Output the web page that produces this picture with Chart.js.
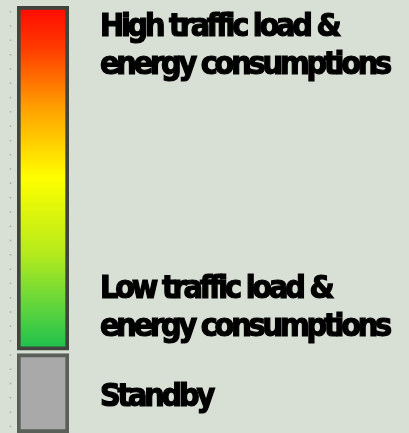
<!DOCTYPE html>
<html>
<head>
<meta charset="utf-8">
<script src="https://cdn.jsdelivr.net/npm/chart.js@4.4.0/dist/chart.umd.min.js"></script>
<style>
    html, body { margin: 0; padding: 0; background: #d8dfd5; }
    #wrap { width: 409px; height: 433px; }
</style>
</head>
<body>
<div id="wrap"><canvas id="legendChart" width="409" height="433"></canvas></div>
<script>
    // Legend bar: one category, two stacked ranges
    const categories = ['Load'];
    const trafficRange = [19.4, 100];   // coloured gradient part
    const standbyRange = [0, 18.6];     // grey standby part

    // where the labels sit on the scale, and their text
    const tickValues = [90.5, 29.2, 8.3];
    const tickLabels = [
        ['High traffic load &', 'energy consumptions'],
        ['Low traffic load &', 'energy consumptions'],
        ['Standby']
    ];

    const fontFamily = "'DejaVu Sans Condensed', 'Liberation Sans', sans-serif";

    function trafficGradient(context) {
        const chart = context.chart;
        const yScale = chart.scales.y;
        if (!chart.chartArea || !yScale) return '#ff0000';
        const top = yScale.getPixelForValue(trafficRange[1]);
        const bottom = yScale.getPixelForValue(trafficRange[0]);
        const g = chart.ctx.createLinearGradient(0, top, 0, bottom);
        g.addColorStop(0, '#ff0800');
        g.addColorStop(0.12, '#ff3a00');
        g.addColorStop(0.3, '#ffa200');
        g.addColorStop(0.5, '#ffff00');
        g.addColorStop(0.72, '#b4ea1c');
        g.addColorStop(0.88, '#5cd43e');
        g.addColorStop(1, '#1cc04e');
        return g;
    }

    // faint dotted guide on the left + tight letter spacing for the labels
    const decorPlugin = {
        id: 'decor',
        beforeDraw(chart) {
            const ctx = chart.ctx;
            ctx.save();
            ctx.strokeStyle = '#a9b0a6';
            ctx.lineWidth = 1.5;
            ctx.setLineDash([1.5, 12.8]);
            ctx.beginPath();
            ctx.moveTo(10.5, 11);
            ctx.lineTo(10.5, chart.height);
            ctx.stroke();
            ctx.restore();
            ctx.letterSpacing = '-3.2px';
        }
    };

    const ctx = document.getElementById('legendChart').getContext('2d');
    new Chart(ctx, {
        type: 'bar',
        data: {
            labels: categories,
            datasets: [
                {
                    label: 'Traffic load',
                    data: [trafficRange],
                    backgroundColor: trafficGradient,
                    borderColor: '#3f453c',
                    borderWidth: 4,
                    borderSkipped: false,
                    barPercentage: 1,
                    categoryPercentage: 1,
                    grouped: false
                },
                {
                    label: 'Standby',
                    data: [standbyRange],
                    backgroundColor: '#a9a9a9',
                    borderColor: '#596057',
                    borderWidth: 4,
                    borderSkipped: false,
                    barPercentage: 1,
                    categoryPercentage: 1,
                    grouped: false
                }
            ]
        },
        options: {
            responsive: false,
            animation: false,
            layout: { padding: { left: 17, top: 6, right: 0, bottom: 0 } },
            plugins: {
                legend: { display: false },
                tooltip: { enabled: false }
            },
            scales: {
                x: { display: false },
                y: {
                    position: 'right',
                    min: 0,
                    max: 100,
                    grid: { display: false, drawTicks: false },
                    border: { display: false },
                    afterBuildTicks: (scale) => {
                        scale.ticks = tickValues.map(v => ({ value: v }));
                    },
                    afterFit: (scale) => {
                        scale.width = 340;
                        scale.paddingTop = 0;
                        scale.paddingBottom = 0;
                    },
                    ticks: {
                        padding: 31,
                        color: '#000000',
                        textStrokeColor: '#000000',
                        textStrokeWidth: 1.2,
                        font: { family: fontFamily, size: 32, weight: 'bold', lineHeight: 1.19 },
                        callback: (value, index) => tickLabels[index]
                    }
                }
            }
        },
        plugins: [decorPlugin]
    });
</script>
</body>
</html>
